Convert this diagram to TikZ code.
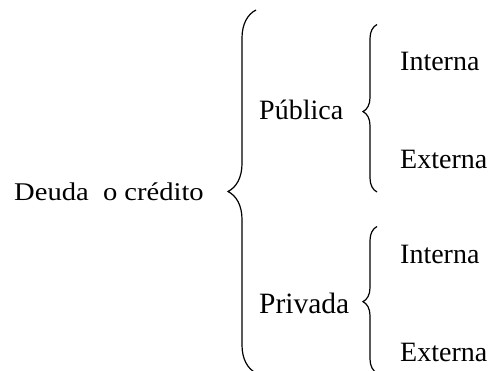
\documentclass[tikz,border=0pt]{standalone}
\usepackage{fontspec}
\setmainfont{Liberation Serif}
\newfontfamily\widefont[FakeStretch=1.12]{Liberation Serif}
\usetikzlibrary{decorations.pathreplacing}

\begin{document}
\begin{tikzpicture}[x=1pt, y=-1pt,
	txt/.style={anchor=base west, inner sep=0pt, font=\fontsize{28}{30}\selectfont},
	curly/.style={decorate, decoration={brace, amplitude=#1}, line width=1.2pt}]
	\useasboundingbox (0,0) rectangle (502,371);
	\node[txt, font=\widefont\fontsize{25.5}{28}\selectfont] (deuda) at (14,200) {Deuda~~o crédito};
	\node[txt] (publica) at (259,120) {Pública};
	\node[txt, font=\fontsize{29.5}{32}\selectfont] (privada) at (259,313.5) {Privada};
	\node[txt] (pubint) at (400,71) {Interna};
	\node[txt] (pubext) at (400,168.5) {Externa};
	\node[txt] (privint) at (400,263.5) {Interna};
	\node[txt] (privext) at (400,361.5) {Externa};
	\coordinate (bigtop) at (256,10);
	\coordinate (bigbot) at (256,373);
	\coordinate (pubtop) at (377,24.5);
	\coordinate (pubbot) at (377,192);
	\coordinate (privtop) at (377,226.5);
	\coordinate (privbot) at (377,373);
	\draw[curly=28] (bigbot) -- (bigtop);
	\draw[curly=14, decoration={aspect=0.48}] (pubbot) -- (pubtop);
	\draw[curly=14, decoration={aspect=0.487}] (privbot) -- (privtop);
\end{tikzpicture}
\end{document}
